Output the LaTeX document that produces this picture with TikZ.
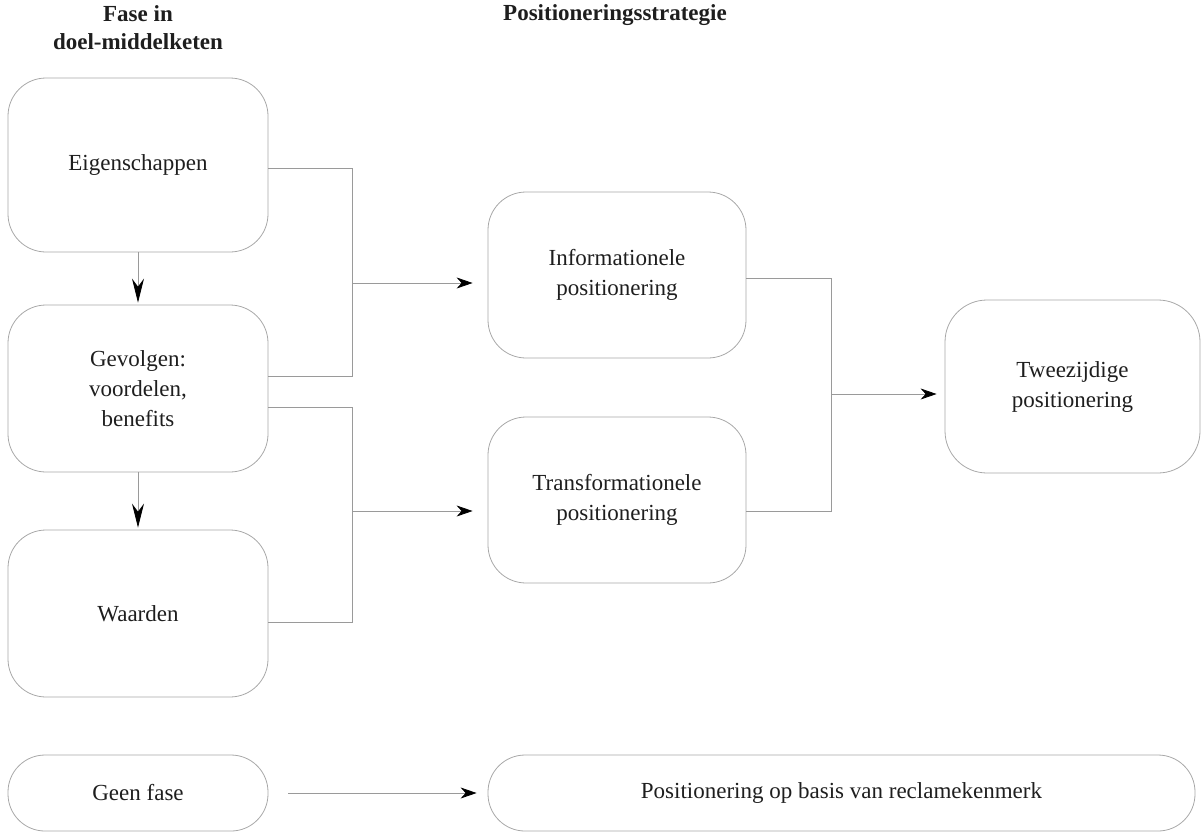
\documentclass[tikz,border=0pt]{standalone}
\usepackage{fontspec}
\setmainfont{Liberation Serif}
\usetikzlibrary{arrows.meta,calc}
\definecolor{boxgray}{HTML}{A8A8A8}
\definecolor{linegray}{HTML}{9A9A9A}
\definecolor{txt}{HTML}{1E1E1E}
\begin{document}
\begin{tikzpicture}[x=1pt,y=-1pt,
  box/.style={draw=boxgray, line width=0.8pt, rounded corners=38pt, align=center,
    text=txt, font=\fontsize{23}{30}\selectfont, inner sep=0pt},
  pill/.style={box, rounded corners=37pt},
  head/.style={align=center, text=txt, font=\fontsize{23}{28}\selectfont\bfseries, inner sep=0pt},
  conn/.style={draw=linegray, line width=0.8pt},
  arr/.style={conn, -{Stealth[length=16pt,width=11pt,inset=5pt,color=black]}},
  varr/.style={conn, -{Stealth[length=24pt,width=12pt,inset=8pt,color=black]}}]
\useasboundingbox (0,0) rectangle (1201,833);

% headings
\node[head] (h1) at (138,28) {Fase in\\doel-middelketen};
\node[head] (h2) at (615,15) {Positioneringsstrategie};

% left column
\node[box, minimum width=260pt, minimum height=174pt] (eig) at (138,165) {Eigenschappen};
\node[box, minimum width=260pt, minimum height=167pt] (gev) at (138,388.5) {Gevolgen:\\voordelen,\\benefits};
\node[box, minimum width=260pt, minimum height=167pt] (waa) at (138,613.5) {Waarden};

% middle column
\node[box, minimum width=258pt, minimum height=166pt] (inf) at (617,275) {Informationele\\positionering};
\node[box, minimum width=258pt, minimum height=166pt] (tra) at (617,500) {Transformationele\\positionering};

% right
\node[box, rounded corners=42pt, minimum width=255pt, minimum height=173pt] (twe) at (1072.5,386.5) {Tweezijdige\\positionering};

% bottom row
\node[pill, minimum width=260pt, minimum height=76pt] (gee) at (138,793) {Geen fase};
\node[pill, minimum width=707pt, minimum height=76pt] (pos) at (841.5,793) {Positionering op basis van reclamekenmerk};

% junctions
\coordinate (j1) at (352,283);
\coordinate (j2) at (352,511);
\coordinate (j3) at (831,394);

% vertical arrows
\draw[varr, shorten >=2pt] (eig.south) -- (gev.north);
\draw[varr, shorten >=2pt] (gev.south) -- (waa.north);

% bracket 1
\draw[conn] ([yshift=-3pt]eig.east) -| (j1);
\draw[conn] ([yshift=12.5pt]gev.east) -| (j1);
\draw[arr, shorten >=15pt] (j1) -- (j1 -| inf.west);

% bracket 2
\draw[conn] ([yshift=-18.5pt]gev.east) -| (j2);
\draw[conn] ([yshift=-8.5pt]waa.east) -| (j2);
\draw[arr, shorten >=15pt] (j2) -- (j2 -| tra.west);

% bracket 3
\draw[conn] ([yshift=-3pt]inf.east) -| (j3);
\draw[conn] ([yshift=-11pt]tra.east) -| (j3);
\draw[arr, shorten >=8pt] (j3) -- (j3 -| twe.west);

% bottom arrow
\draw[arr, shorten <=20pt, shorten >=11pt] (gee.east) -- (pos.west);
\end{tikzpicture}
\end{document}
